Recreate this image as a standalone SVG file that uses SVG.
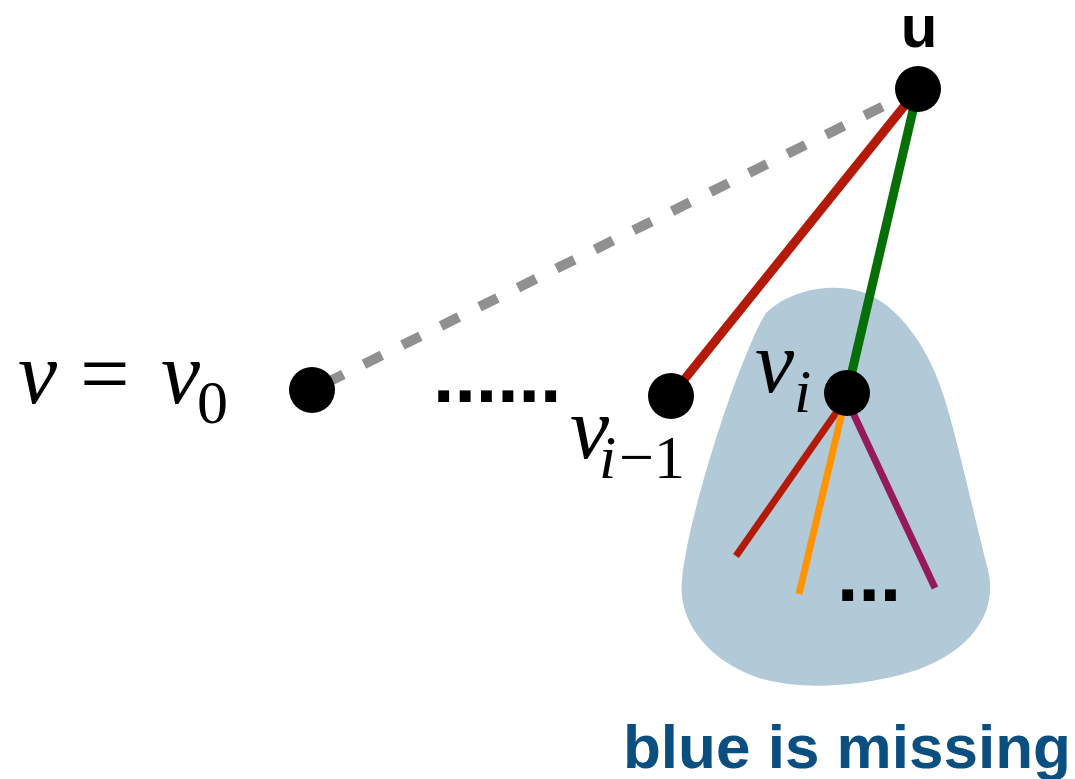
<svg xmlns="http://www.w3.org/2000/svg" width="1075" height="779" viewBox="0 0 1075 779">
<style>
.node{fill:#000}
.math{font-family:"Liberation Serif","Times New Roman",serif;fill:#000}
.it{font-style:italic}
.dots{font-family:"Liberation Sans",Arial,sans-serif;font-weight:bold;font-size:77px;fill:#000}
.e{fill:none;stroke-linecap:butt}
</style>
<rect width="1075" height="779" fill="#fff"/>
<g id="blob">
<path d="M766 313 C790 290 830 282 862 292 C900 305 930 350 945 400 C960 450 975 520 988 570 C1000 620 960 660 900 675 C850 688 780 692 740 670 C700 650 678 615 682 580 C686 530 720 420 740 370 C750 345 758 325 766 313 Z" fill="#b2c9d7"/>
</g>
<g id="connectors">
<line class="e" x1="312" y1="390" x2="918" y2="89" stroke="#909090" stroke-width="10" stroke-dasharray="20 23" stroke-dashoffset="28"/>
<line class="e" x1="671" y1="396" x2="918" y2="89" stroke="#b41a08" stroke-width="9"/>
<line class="e" x1="847" y1="393" x2="918" y2="89" stroke="#067006" stroke-width="9"/>
<line class="e" x1="845" y1="400" x2="736" y2="556" stroke="#b41a08" stroke-width="7"/>
<line class="e" x1="845" y1="400" x2="799" y2="594" stroke="#ff9400" stroke-width="7"/>
<line class="e" x1="847" y1="400" x2="935" y2="588" stroke="#941a5c" stroke-width="7"/>
</g>
<g id="node-u">
<circle class="node" cx="918" cy="89" r="23"/>
<text x="919" y="47" text-anchor="middle" font-family="Liberation Sans,Arial,sans-serif" font-weight="bold" font-size="60">u</text>
</g>
<g id="node-v0">
<circle class="node" cx="312" cy="390" r="23"/>
<text class="math" font-size="88" y="403"><tspan class="it" x="18">v</tspan><tspan x="80">=</tspan><tspan class="it" x="161">v</tspan><tspan x="197" y="423" font-size="62">0</tspan></text>
</g>
<g id="ellipsis">
<text class="dots" x="433" y="402">......</text>
</g>
<g id="node-vi-1">
<circle class="node" cx="671" cy="396" r="23"/>
<text class="math" font-size="88" y="458"><tspan class="it" x="570">v</tspan><tspan class="it" x="599" y="478" font-size="62">i</tspan><tspan x="619" y="478" font-size="62">−1</tspan></text>
</g>
<g id="node-vi">
<circle class="node" cx="847" cy="393" r="23"/>
<text class="math" font-size="88" y="392"><tspan class="it" x="755">v</tspan><tspan class="it" x="794" y="412" font-size="62">i</tspan></text>
<text class="dots" x="837" y="601">...</text>
</g>
<g id="caption">
<text x="623" y="768" font-family="Liberation Sans,Arial,sans-serif" font-weight="bold" font-size="62" fill="#0b4f80">blue is missing</text>
</g>
</svg>
